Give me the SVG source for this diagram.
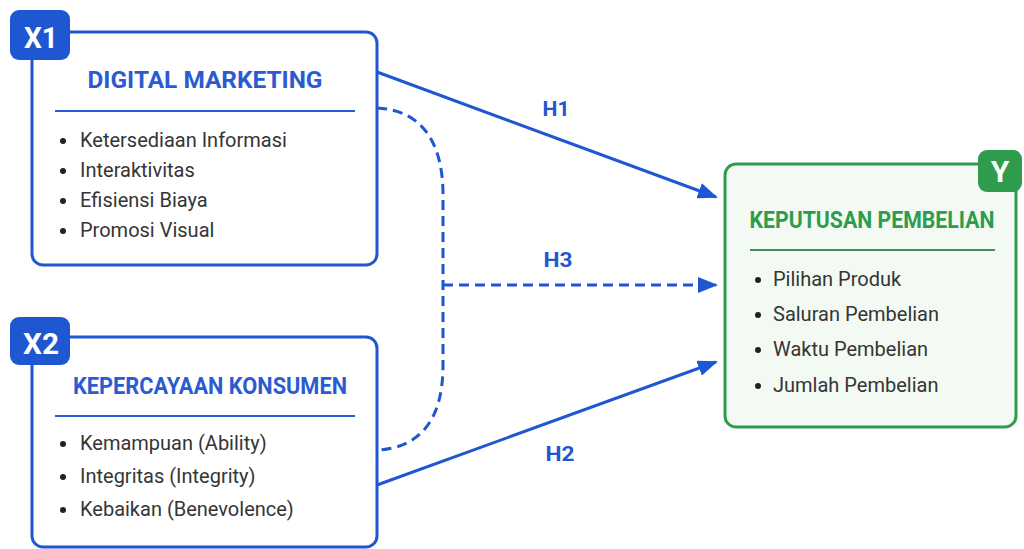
<svg xmlns="http://www.w3.org/2000/svg" width="1024" height="549" viewBox="0 0 1024 549">
  <defs>
    <marker id="arrow" viewBox="0 0 20 16" refX="18" refY="8" markerWidth="20" markerHeight="16" markerUnits="userSpaceOnUse" orient="auto">
      <path d="M0,0 L20,8 L0,16 Z" fill="#1f57d3"/>
    </marker>
    <style>
      .box-blue { fill: #ffffff; stroke: #1f57d3; stroke-width: 3; }
      .box-green { fill: #f3faf4; stroke: #2e9c4c; stroke-width: 3; }
      .badge-blue { fill: #1f57d3; }
      .badge-green { fill: #2e9c4c; }
      .badge-text { font-family: Roboto, "Liberation Sans", sans-serif; font-weight: 700; fill: #ffffff; text-anchor: middle; font-size: 30px; }
      .title-blue { font-family: Roboto, "Liberation Sans", sans-serif; font-weight: 700; fill: #2a5bd3; text-anchor: middle; font-size: 24px; }
      .title-green { font-family: Roboto, "Liberation Sans", sans-serif; font-weight: 700; fill: #2e9c4c; text-anchor: middle; font-size: 23px; }
      .rule-blue { stroke: #2a5bd3; stroke-width: 2; }
      .rule-green { stroke: #4a8a5a; stroke-width: 2; }
      .item { font-family: Roboto, "Liberation Sans", sans-serif; font-size: 20px; fill: #353535; }
      .dot { fill: #222222; }
      .link { fill: none; stroke: #1f57d3; stroke-width: 3; }
      .dashed { stroke-dasharray: 10 6; }
      .hlabel { font-family: Roboto, "Liberation Sans", sans-serif; font-weight: 700; font-size: 21px; fill: #1f57d3; text-anchor: middle; }
    </style>
  </defs>

  <rect width="1024" height="549" fill="#ffffff"/>

  <!-- Connectors -->
  <g id="connectors">
    <path class="link" d="M377,72 L716,197" marker-end="url(#arrow)"/>
    <path class="link" d="M377,485 L716,362" marker-end="url(#arrow)"/>
    <path class="link dashed" d="M377,108 C420,110 443,140 443,195 L443,365 C443,420 420,448 377,450"/>
    <path class="link dashed" d="M443,285 L716,285" marker-end="url(#arrow)"/>
    <text class="hlabel" x="556" y="116" textLength="27" lengthAdjust="spacingAndGlyphs">H1</text>
    <text class="hlabel" x="558" y="267" textLength="29" lengthAdjust="spacingAndGlyphs">H3</text>
    <text class="hlabel" x="560" y="461" textLength="29" lengthAdjust="spacingAndGlyphs">H2</text>
  </g>

  <!-- X1: Digital Marketing -->
  <g id="x1-digital-marketing">
    <rect class="box-blue" x="32" y="32" width="345" height="233" rx="11"/>
    <rect class="badge-blue" x="10" y="10" width="60" height="50" rx="9"/>
    <text class="badge-text" x="41" y="48" textLength="34" lengthAdjust="spacingAndGlyphs">X1</text>
    <text class="title-blue" x="205" y="88" textLength="235" lengthAdjust="spacingAndGlyphs">DIGITAL MARKETING</text>
    <line class="rule-blue" x1="55" y1="111" x2="355" y2="111"/>
    <circle class="dot" cx="63" cy="141" r="3"/>
    <text class="item" x="80" y="147">Ketersediaan Informasi</text>
    <circle class="dot" cx="63" cy="171" r="3"/>
    <text class="item" x="80" y="177">Interaktivitas</text>
    <circle class="dot" cx="63" cy="201" r="3"/>
    <text class="item" x="80" y="207">Efisiensi Biaya</text>
    <circle class="dot" cx="63" cy="231" r="3"/>
    <text class="item" x="80" y="237">Promosi Visual</text>
  </g>

  <!-- X2: Kepercayaan Konsumen -->
  <g id="x2-kepercayaan-konsumen">
    <rect class="box-blue" x="32" y="337" width="345" height="210" rx="11"/>
    <rect class="badge-blue" x="10" y="317" width="60" height="48" rx="9"/>
    <text class="badge-text" x="41" y="354" textLength="36" lengthAdjust="spacingAndGlyphs">X2</text>
    <text class="title-blue" x="210" y="394" textLength="274" lengthAdjust="spacingAndGlyphs">KEPERCAYAAN KONSUMEN</text>
    <line class="rule-blue" x1="55" y1="416" x2="355" y2="416"/>
    <circle class="dot" cx="63" cy="444" r="3"/>
    <text class="item" x="80" y="450">Kemampuan (Ability)</text>
    <circle class="dot" cx="63" cy="477" r="3"/>
    <text class="item" x="80" y="483">Integritas (Integrity)</text>
    <circle class="dot" cx="63" cy="510" r="3"/>
    <text class="item" x="80" y="516">Kebaikan (Benevolence)</text>
  </g>

  <!-- Y: Keputusan Pembelian -->
  <g id="y-keputusan-pembelian">
    <rect class="box-green" x="725" y="164" width="291" height="263" rx="11"/>
    <rect class="badge-green" x="978" y="150" width="44" height="42" rx="9"/>
    <text class="badge-text" x="1000" y="182">Y</text>
    <text class="title-green" x="872" y="228" textLength="245" lengthAdjust="spacingAndGlyphs">KEPUTUSAN PEMBELIAN</text>
    <line class="rule-green" x1="750" y1="250" x2="995" y2="250"/>
    <circle class="dot" cx="758" cy="280" r="3"/>
    <text class="item" x="773" y="286">Pilihan Produk</text>
    <circle class="dot" cx="758" cy="315" r="3"/>
    <text class="item" x="773" y="321">Saluran Pembelian</text>
    <circle class="dot" cx="758" cy="350" r="3"/>
    <text class="item" x="773" y="356">Waktu Pembelian</text>
    <circle class="dot" cx="758" cy="386" r="3"/>
    <text class="item" x="773" y="392">Jumlah Pembelian</text>
  </g>
</svg>
